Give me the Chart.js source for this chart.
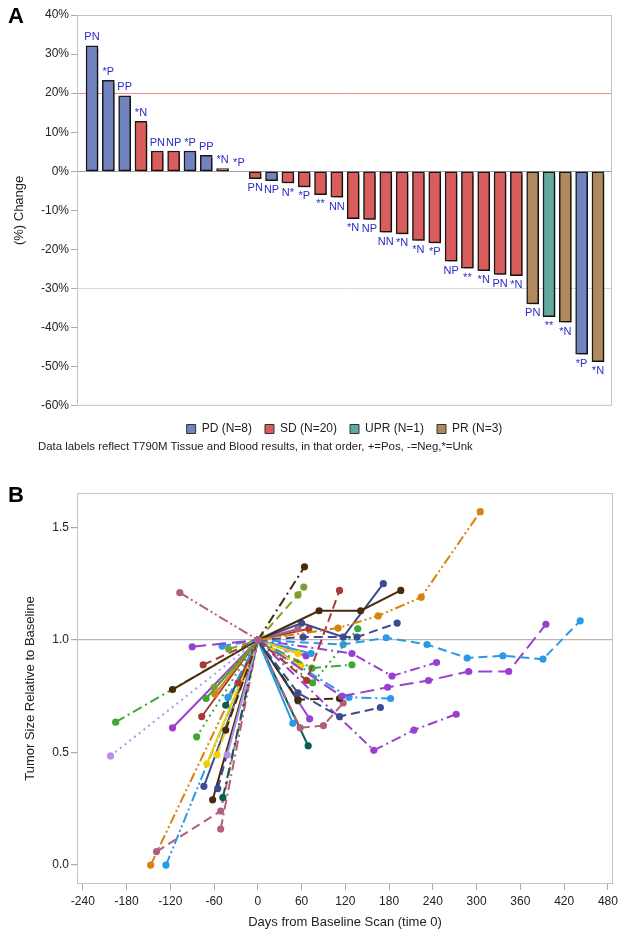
<!DOCTYPE html>
<html>
<head>
<meta charset="utf-8">
<script src="https://cdn.jsdelivr.net/npm/chart.js@4.4.0/dist/chart.umd.min.js"></script>
<style>
  body { margin: 0; background: #fff; font-family: Arial, "Liberation Sans", sans-serif; }
  #page { position: relative; width: 630px; height: 941px; overflow: hidden; }
  .tag { position: absolute; left: 8px; font-weight: bold; font-size: 22px; color: #000; }
  #note { position: absolute; left: 38px; top: 440px; font-size: 11.4px; color: #222; white-space: nowrap; }
  canvas { position: absolute; left: 0; }
</style>
</head>
<body>
<div id="page">
  <canvas id="chartWaterfall" width="630" height="445" style="top:0"></canvas>
  <canvas id="chartSpider" width="630" height="471" style="top:470px"></canvas>
  <div class="tag" style="top:3px">A</div>
  <div class="tag" style="top:482px">B</div>
  <div id="note">Data labels reflect T790M Tissue and Blood results, in that order, +=Pos, -=Neg,*=Unk</div>
</div>
<script>
// panel A: best % change per patient
const pctChange = [32.1, 23.3, 19.3, 12.8, 5.2, 5.2, 5.2, 4.1, 0.7, 0, -1.9, -2.4, -3.0, -4.0, -6.0, -6.6,
  -12.1, -12.3, -15.6, -16.0, -17.7, -18.3, -23.0, -24.8, -25.4, -26.4, -26.7, -33.9, -37.2, -38.6, -46.8, -48.7];
const responseGroup = ['PD', 'PD', 'PD', 'SD', 'SD', 'SD', 'PD', 'PD', 'SD', 'PD', 'SD', 'PD', 'SD', 'SD', 'SD', 'SD',
  'SD', 'SD', 'SD', 'SD', 'SD', 'SD', 'SD', 'SD', 'SD', 'SD', 'SD', 'PR', 'UPR', 'PR', 'PD', 'PR'];
const t790mLabels = ['PN', '*P', 'PP', '*N', 'PN', 'NP', '*P', 'PP', '*N', '*P', 'PN', 'NP', 'N*', '*P', '**', 'NN',
  '*N', 'NP', 'NN', '*N', '*N', '*P', 'NP', '**', '*N', 'PN', '*N', 'PN', '**', '*N', '*P', '*N'];
const groupNames = ['PD', 'SD', 'UPR', 'PR'];
const groupCounts = [8, 20, 1, 3];
const pctTicks = [40, 30, 20, 10, 0, -10, -20, -30, -40, -50, -60];

// panel B: scans per patient (days from baseline, size relative to baseline)
const scanDays = [
  [-107, 0], [-90, 0], [-49, 0], [-40, 0], [-75, 0], [-117, 0], [-195, 0], [-202, 0], [-60, 0], [-71, 0],
  [-59, 0], [-41, 0], [-27, 0], [-44, 0], [-117, 0], [-77, 0], [-84, 0], [-44, 0], [-70, 0], [-56, 0],
  [-42, 0], [-74, 0], [-55, 0], [-62, 0], [-48, 0], [-139, -51, 0], [-51, 0],
  [-147, 0, 110, 165, 224, 305], [-126, 0],
  [0, 64], [0, 55, 63], [0, 67, 112], [0, 84, 141, 196], [0, 60, 117, 172], [0, 62, 136, 191],
  [0, 55], [0, 70], [0, 75, 137], [0, 117, 176, 232, 287, 336, 391, 442], [0, 115, 178, 234, 289, 344, 395],
  [0, 129, 184, 245], [0, 74, 129], [0, 55], [0, 59], [0, 55, 112, 168], [0, 55, 112], [0, 55],
  [0, 125, 182], [0, 71], [0, 159, 214, 272], [0, 48], [0, 58, 90, 117], [0, 69], [0, 73], [0, 66],
  [0, 40], [0, 53]
];
const tumorSize = [
  [1.21, 1], [0.97, 1], [0.973, 1], [0.96, 1], [0.89, 1], [0.78, 1], [0.635, 1], [0.485, 1], [0.79, 1], [0.74, 1],
  [0.76, 1], [0.745, 1], [0.81, 1], [0.71, 1], [0.61, 1], [0.66, 1], [0.57, 1], [0.60, 1], [0.45, 1], [0.49, 1],
  [0.49, 1], [0.35, 1], [0.34, 1], [0.29, 1], [0.30, 1], [0.06, 0.24, 1], [0.16, 1],
  [0, 1, 1.053, 1.107, 1.19, 1.57], [0, 1],
  [1, 1.325], [1, 1.2, 1.235], [1, 0.82, 1.22], [1, 1.13, 1.13, 1.22], [1, 1.075, 1.013, 1.25], [1, 1.013, 1.013, 1.075],
  [1, 1.05], [1, 1.05], [1, 0.81, 1.05], [1, 0.98, 1.01, 0.98, 0.92, 0.93, 0.915, 1.085], [1, 0.75, 0.79, 0.82, 0.86, 0.86, 1.07],
  [1, 0.94, 0.84, 0.90], [1, 0.875, 0.89], [1, 0.94], [1, 0.885], [1, 0.765, 0.66, 0.70], [1, 0.735, 0.74], [1, 0.73],
  [1, 0.745, 0.74], [1, 0.65], [1, 0.51, 0.60, 0.67], [1, 0.63], [1, 0.61, 0.62, 0.72], [1, 0.53], [1, 0.94], [1, 0.93],
  [1, 0.96], [1, 0.90]
];
const dayTicks = [-240, -180, -120, -60, 0, 60, 120, 180, 240, 300, 360, 420, 480];
const sizeTicks = [0, 0.5, 1.0, 1.5];

// styles
const lineColor = [
  'mauve', 'purple', 'sky', 'olive', 'red', 'brown', 'green', 'lavender', 'olive', 'green',
  'orange', 'sky', 'red', 'teal', 'purple', 'red', 'green', 'brown', 'yellow', 'yellow',
  'lavender', 'navy', 'navy', 'brown', 'teal', 'mauve', 'mauve',
  'orange', 'sky',
  'brown', 'olive', 'red', 'brown', 'navy', 'navy',
  'mauve', 'red', 'green', 'sky', 'purple',
  'purple', 'green', 'yellow', 'yellow', 'navy', 'brown', 'teal',
  'sky', 'purple', 'purple', 'sky', 'mauve', 'teal', 'sky', 'purple',
  'lavender', 'red'
];
const lineDash = [
  'dashDotDot', 'longDash', 'dash', 'dash', 'dash', 'solid', 'dashDot', 'dot', 'dot', 'solid',
  'solid', 'dashDot', 'solid', 'dash', 'solid', 'solid', 'dot', 'dash', 'solid', 'dash',
  'solid', 'solid', 'dash', 'solid', 'dashDot', 'dash', 'dashDot',
  'dashDotDot', 'dashDotDot',
  'dashDot', 'dash', 'dash', 'solid', 'solid', 'dash',
  'solid', 'solid', 'dot', 'dash', 'longDash',
  'dashDot', 'dashDot', 'solid', 'dash', 'dash', 'dash', 'solid',
  'dashDot', 'solid', 'dashDot', 'solid', 'dash', 'solid', 'solid', 'solid',
  'solid', 'dash'
];
const palette = {
  brown: '#4a2a0c', olive: '#7f9f2a', red: '#a83a3a', navy: '#3b4b8f', orange: '#d8820f', sky: '#2a9ae6',
  purple: '#9940d0', green: '#3da832', mauve: '#b0607e', teal: '#0a5e4f', yellow: '#f0d000', lavender: '#b592e8'
};
const dashes = {
  solid: [], dash: [9, 5], longDash: [14, 6], dashDot: [10, 4, 2, 4], dashDotDot: [10, 3, 2, 3, 2, 3], dot: [2, 4]
};
const groupFill = { PD: '#7083be', SD: '#d95d5d', UPR: '#62aaa0', PR: '#b08a5e' };
const FONT = 'Arial, "Liberation Sans", sans-serif';
Chart.defaults.font.family = FONT;
Chart.defaults.color = '#222';

const frame = {
  id: 'frame',
  afterDraw(chart) {
    const { ctx, chartArea: a } = chart;
    ctx.save();
    ctx.strokeStyle = '#c4c4c4';
    ctx.lineWidth = 1;
    ctx.strokeRect(a.left + 0.5, a.top + 0.5, a.right - a.left - 1, a.bottom - a.top - 1);
    ctx.restore();
  }
};

const barShadow = {
  id: 'barShadow',
  beforeDatasetsDraw(chart) {
    const ctx = chart.ctx;
    ctx.save();
    ctx.shadowColor = 'rgba(0,0,0,0.4)';
    ctx.shadowOffsetX = 3;
    ctx.shadowOffsetY = 3;
    ctx.shadowBlur = 1;
  },
  afterDatasetsDraw(chart) {
    chart.ctx.restore();
  }
};

const barLabels = {
  id: 'barLabels',
  afterDraw(chart) {
    const ctx = chart.ctx;
    const meta = chart.getDatasetMeta(0);
    ctx.save();
    ctx.font = '11px ' + FONT;
    ctx.fillStyle = '#2b2bc8';
    ctx.textAlign = 'center';
    meta.data.forEach((bar, i) => {
      if (pctChange[i] >= 0) {
        ctx.textBaseline = 'bottom';
        ctx.fillText(t790mLabels[i], bar.x, bar.y - 3);
      } else {
        ctx.textBaseline = 'top';
        ctx.fillText(t790mLabels[i], bar.x, bar.y + 4);
      }
    });
    ctx.restore();
  }
};

const dataWaterfall = {
  datasets: [
    {
      data: pctChange.map((v, i) => ({ x: i, y: v })),
      backgroundColor: responseGroup.map((g) => groupFill[g]),
      borderColor: '#1a1a1a',
      borderWidth: 1.5,
      borderSkipped: false,
      barThickness: 12,
    },
  ],
};

const configWaterfall = {
  type: 'bar',
  data: dataWaterfall,
  options: {
    animation: false,
    responsive: false,
    devicePixelRatio: 1,
    layout: { padding: { top: 15, right: 18, left: 0, bottom: 0 } },
    scales: {
      x: { type: 'linear', display: false, min: -0.92, max: 31.86, offset: false },
      y: {
        min: -60,
        max: 40,
        afterBuildTicks: (s) => { s.ticks = pctTicks.map((v) => ({ value: v })); },
        afterFit: (s) => { s.width = 77; },
        ticks: { callback: (v) => v + '%', font: { size: 12 }, color: '#222', padding: 2 },
        grid: {
          color: (c) => c.tick.value === 0 ? '#a0a0a0' : c.tick.value === 20 ? '#f28a8a' : c.tick.value === -30 ? '#d8d8d8' : 'rgba(0,0,0,0)',
          tickColor: '#aaa',
          tickLength: 6,
        },
        border: { display: false },
        title: { display: true, text: '(%) Change', font: { size: 13 }, color: '#222', padding: { top: 12, bottom: 0 } },
      },
    },
    plugins: {
      tooltip: { enabled: false },
      legend: {
        position: 'bottom',
        fullSize: false,
        title: { display: true, text: ' ', font: { size: 1 }, padding: { top: 3, bottom: 0 } },
        labels: {
          boxWidth: 9,
          boxHeight: 9,
          padding: 13,
          font: { size: 12 },
          color: '#222',
          generateLabels: () => groupNames.map((g, i) => ({
            text: g + ' (N=' + groupCounts[i] + ')',
            fillStyle: groupFill[g],
            strokeStyle: '#333',
            lineWidth: 1,
            datasetIndex: 0,
          })),
        },
      },
    },
  },
  plugins: [barShadow, frame, barLabels],
};

var chartA = new Chart(document.getElementById('chartWaterfall'), configWaterfall);

////

const dataSpider = {
  datasets: scanDays.map((days, i) => ({
    data: days.map((d, j) => ({ x: d, y: tumorSize[i][j] })),
    showLine: true,
    borderColor: palette[lineColor[i]],
    backgroundColor: palette[lineColor[i]],
    borderWidth: 2,
    borderDash: dashes[lineDash[i]],
    pointRadius: 3.6,
    pointBorderWidth: 0,
  })),
};

const configSpider = {
  type: 'scatter',
  data: dataSpider,
  options: {
    animation: false,
    responsive: false,
    devicePixelRatio: 1,
    layout: { padding: { top: 23, right: 17, left: 0, bottom: 0 } },
    scales: {
      x: {
        type: 'linear',
        min: -248,
        max: 487,
        afterBuildTicks: (s) => { s.ticks = dayTicks.map((v) => ({ value: v })); },
        afterFit: (s) => { s.height = 57; },
        ticks: { font: { size: 12 }, color: '#222', padding: 4 },
        grid: { drawOnChartArea: false, tickColor: '#aaa', tickLength: 6 },
        border: { display: false },
        title: { display: true, text: 'Days from Baseline Scan (time 0)', font: { size: 13 }, color: '#222', padding: { top: 0, bottom: 11 } },
      },
      y: {
        min: -0.084,
        max: 1.653,
        afterBuildTicks: (s) => { s.ticks = sizeTicks.map((v) => ({ value: v })); },
        afterFit: (s) => { s.width = 77; },
        ticks: { callback: (v) => v.toFixed(1), font: { size: 12 }, color: '#222', padding: 2 },
        grid: {
          color: (c) => c.tick.value === 1 ? '#b8b8b8' : 'rgba(0,0,0,0)',
          lineWidth: 1.2,
          tickColor: '#aaa',
          tickLength: 6,
        },
        border: { display: false },
        title: { display: true, text: 'Tumor Size Relative to Baseline', font: { size: 13 }, color: '#222', padding: { top: 23, bottom: 0 } },
      },
    },
    plugins: { legend: { display: false }, tooltip: { enabled: false } },
  },
  plugins: [frame],
};

var chartB = new Chart(document.getElementById('chartSpider'), configSpider);
</script>
</body>
</html>
